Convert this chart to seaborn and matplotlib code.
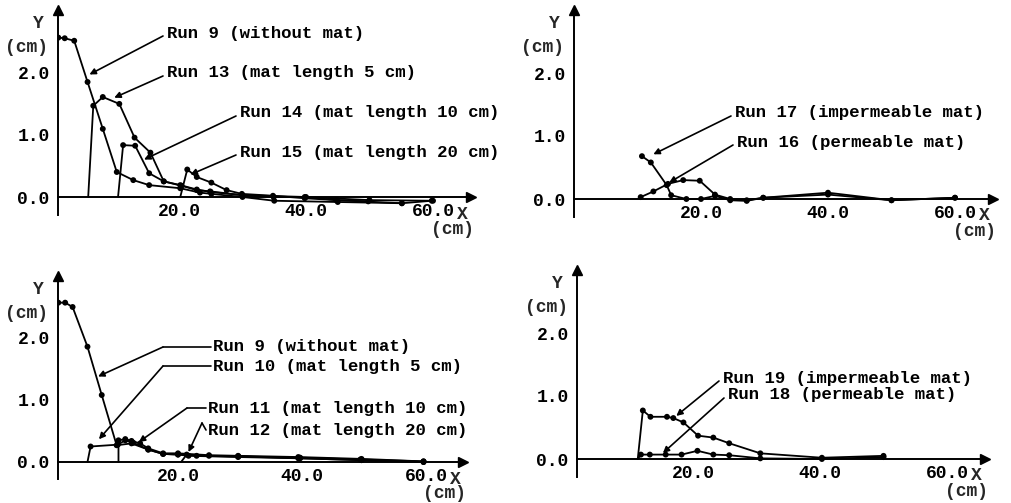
import matplotlib
matplotlib.use("Agg")
import matplotlib.pyplot as plt
import seaborn as sns
import pandas as pd
from matplotlib.lines import Line2D

# ---------------- data ----------------
# Top-left panel
tl_run9_x = [1.0, 2.0, 3.5, 5.6, 8.0, 10.2, 12.8, 15.3, 20.2, 23.3, 25.1, 30.0, 35.0, 45.0, 55.1]
tl_run9_y = [2.55, 2.54, 2.50, 1.84, 1.09, 0.40, 0.27, 0.19, 0.14, 0.07, 0.05, 0.00, -0.06, -0.08, -0.10]
tl_run13_x = [5.7, 6.5, 8.0, 10.6, 13.0, 15.5, 17.6, 20.4, 22.8, 24.9, 29.9, 34.9, 39.8, 44.8, 49.8]
tl_run13_y = [0.00, 1.46, 1.60, 1.49, 0.95, 0.71, 0.25, 0.18, 0.11, 0.09, 0.03, 0.00, 0.00, -0.05, -0.07]
tl_run14_x = [10.4, 11.2, 13.1, 15.3, 17.6, 20.2, 22.8, 25.0, 30.0, 40.0, 50.0, 60.0]
tl_run14_y = [0.00, 0.83, 0.82, 0.38, 0.25, 0.19, 0.12, 0.08, 0.03, 0.00, -0.05, -0.06]
tl_run15_x = [20.2, 21.3, 22.8, 25.1, 27.5, 29.9, 34.8, 39.8, 44.8, 55.1, 59.8]
tl_run15_y = [0.00, 0.44, 0.32, 0.23, 0.11, 0.05, 0.02, -0.02, -0.05, -0.10, -0.06]

# Top-right panel
tr_run16_x = [10.5, 12.5, 14.8, 17.2, 19.8, 22.2, 24.6, 27.2, 29.8, 40.0, 50.0, 60.0]
tr_run16_y = [0.03, 0.12, 0.24, 0.30, 0.29, 0.07, 0.00, -0.02, 0.02, 0.07, -0.02, 0.02]
tr_run17_x = [10.7, 12.1, 14.6, 15.3, 17.7, 20.0, 22.2, 24.6, 27.2, 29.8, 40.0, 50.0, 60.0]
tr_run17_y = [0.68, 0.58, 0.22, 0.06, 0.00, 0.00, 0.05, -0.02, -0.03, 0.02, 0.10, -0.02, 0.02]

# Bottom-left panel
bl_run9_x = [0.7, 1.8, 3.0, 5.4, 7.7, 10.1, 12.5, 15.2, 17.6, 20.0, 25.0, 29.7, 39.7, 49.6, 59.6]
bl_run9_y = [2.57, 2.57, 2.50, 1.86, 1.08, 0.27, 0.30, 0.20, 0.13, 0.12, 0.10, 0.09, 0.06, 0.03, 0.00]
bl_run10_x = [5.4, 5.9, 10.3, 11.5, 12.8, 15.2, 17.6, 20.0, 21.7, 29.7, 39.4, 49.6, 59.6]
bl_run10_y = [0.00, 0.25, 0.28, 0.35, 0.31, 0.20, 0.13, 0.12, 0.10, 0.08, 0.06, 0.03, 0.00]
bl_run11_x = [10.4, 10.4, 11.5, 12.5, 13.9, 15.2, 17.6, 20.0, 25.0, 29.7, 39.4, 49.6, 59.6]
bl_run11_y = [0.00, 0.35, 0.37, 0.34, 0.30, 0.22, 0.14, 0.14, 0.11, 0.10, 0.08, 0.05, 0.01]
bl_run12_x = [20.5, 21.4, 23.0, 29.7, 39.7, 49.4, 59.6]
bl_run12_y = [0.00, 0.12, 0.10, 0.09, 0.07, 0.04, 0.01]

# Bottom-right panel
br_run18_x = [11.3, 11.8, 13.2, 15.7, 18.2, 20.7, 23.2, 25.7, 30.6, 40.3, 50.0]
br_run18_y = [0.00, 0.07, 0.07, 0.07, 0.07, 0.13, 0.07, 0.06, 0.01, 0.00, 0.03]
br_run19_x = [11.3, 12.1, 13.3, 15.9, 16.9, 18.5, 20.8, 23.2, 25.7, 30.6, 40.3, 50.0]
br_run19_y = [0.00, 0.77, 0.67, 0.67, 0.65, 0.58, 0.37, 0.34, 0.25, 0.09, 0.02, 0.05]

x_ticks = [20, 40, 60]
x_ticklabels = ["20.0", "40.0", "60.0"]
y_ticks = [0, 1, 2]
y_ticklabels = ["0.0", "1.0", "2.0"]

label_run9 = "Run 9 (without mat)"
tl_labels = [label_run9, "Run 13 (mat length 5 cm)", "Run 14 (mat length 10 cm)", "Run 15 (mat length 20 cm)"]
tr_labels = ["Run 17 (impermeable mat)", "Run 16 (permeable mat)"]
bl_labels = [label_run9, "Run 10 (mat length 5 cm)", "Run 11 (mat length 10 cm)", "Run 12 (mat length 20 cm)"]
br_labels = ["Run 19 (impermeable mat)", "Run 18 (permeable mat)"]

# ---------------- styling / layout ----------------
sns.set_theme(style="white")
FONT = ["Liberation Mono", "DejaVu Sans Mono"]
plt.rcParams["font.family"] = FONT
W, H = 1011, 503
XMAX, YMIN, YMAX = 66.0, -0.28, 3.0

fig = plt.figure(figsize=(W / 100, H / 100), dpi=100)
fig.patch.set_facecolor("white")

panel_geom = {
    "TL": dict(x0=52, sx=6.35, ax_px=58, y0=197, sy=62.5),
    "TR": dict(x0=574, sx=6.35, ax_px=574, y0=199, sy=63.0),
    "BL": dict(x0=54, sx=6.2, ax_px=58, y0=462, sy=62.0),
    "BR": dict(x0=566, sx=6.35, ax_px=577, y0=459, sy=63.0),
}

TICK_FS = 13
TXT_FS = 12.5
WEIGHT = "bold"


def make_axes(g):
    xl = (g["ax_px"] - g["x0"]) / g["sx"]
    right = g["x0"] + XMAX * g["sx"]
    top = g["y0"] - YMAX * g["sy"]
    bottom = g["y0"] - YMIN * g["sy"]
    ax = fig.add_axes([g["ax_px"] / W, 1 - bottom / H, (right - g["ax_px"]) / W, (bottom - top) / H])
    ax.set_facecolor("none")
    ax.set_xlim(xl, XMAX)
    ax.set_ylim(YMIN, YMAX)
    for s in ["top", "right"]:
        ax.spines[s].set_visible(False)
    ax.spines["bottom"].set_position(("data", 0))
    for s in ["left", "bottom"]:
        ax.spines[s].set_color("black")
        ax.spines[s].set_linewidth(1.4)
    ax.set_xticks(x_ticks)
    ax.set_xticklabels(x_ticklabels)
    ax.set_xticks([10, 30, 50], minor=True)
    ax.set_yticks(y_ticks)
    ax.set_yticklabels(y_ticklabels)
    ax.set_yticks([0.5, 1.5, 2.5], minor=True)
    ax.tick_params(axis="x", which="both", direction="in", length=5, width=1.2, color="black",
                   labelsize=TICK_FS, pad=4)
    ax.tick_params(axis="y", which="both", direction="in", length=4, width=1.2, color="black",
                   labelsize=TICK_FS, pad=6)
    for lab in ax.get_xticklabels() + ax.get_yticklabels():
        lab.set_fontweight(WEIGHT)
        lab.set_color("black")
    # arrow heads
    ax.plot(1, 0, marker=">", ms=7, color="black", transform=ax.get_yaxis_transform(), clip_on=False)
    ax.plot(xl, 1, marker="^", ms=7, color="black", transform=ax.get_xaxis_transform(), clip_on=False)
    # axis titles
    ax.annotate("Y", xy=(0, 2.78), xycoords=("axes fraction", "data"), xytext=(-20, 0),
                textcoords="offset pixels", ha="center", va="center", fontsize=TICK_FS, fontweight=WEIGHT)
    ax.annotate("(cm)", xy=(0, 2.40), xycoords=("axes fraction", "data"), xytext=(-31, 0),
                textcoords="offset pixels", ha="center", va="center", fontsize=TICK_FS, fontweight=WEIGHT)
    ax.annotate("X", xy=(64.7, 0), xycoords="data", xytext=(0, -17),
                textcoords="offset pixels", ha="center", va="center", fontsize=TICK_FS, fontweight=WEIGHT,
                annotation_clip=False)
    ax.annotate("(cm)", xy=(63.0, 0), xycoords="data", xytext=(0, -32),
                textcoords="offset pixels", ha="center", va="center", fontsize=TICK_FS, fontweight=WEIGHT,
                annotation_clip=False)
    return ax


def draw_series(ax, series):
    frames = []
    for name, xs, ys in series:
        d = pd.DataFrame({"x": xs, "y": ys, "run": name})
        # a run that starts on the bed (mat end) has no measured dot at that base point
        d["dot"] = True
        if ys[0] == 0.0:
            d.loc[0, "dot"] = False
        frames.append(d)
    df = pd.concat(frames, ignore_index=True)
    names = [s[0] for s in series]
    pal = ["black"] * len(names)
    sns.lineplot(data=df, x="x", y="y", hue="run", hue_order=names, palette=pal,
                 units="run", estimator=None, sort=False, linewidth=1.3, ax=ax, legend=False)
    sns.scatterplot(data=df[df["dot"]], x="x", y="y", hue="run", hue_order=names, palette=pal,
                    s=18, linewidth=0, ax=ax, legend=False, zorder=3)
    ax.set_xlabel("")
    ax.set_ylabel("")


def label(ax, text, tx, ty, target, knee=None):
    fig.text(tx / W, 1 - ty / H, text, ha="left", va="center", fontsize=TXT_FS,
             fontweight=WEIGHT, color="black")
    if knee is None:
        kx, ky = tx - 4, ty + 3
    else:
        kx, ky = knee
        fig.add_artist(Line2D([kx / W, (tx - 2) / W], [1 - ky / H, 1 - ty / H],
                              transform=fig.transFigure, color="black", lw=1.2))
    ax.annotate("", xy=target, xycoords="data", xytext=(kx, H - ky), textcoords="figure pixels",
                arrowprops=dict(arrowstyle="-|>", color="black", lw=1.2, shrinkA=0, shrinkB=1,
                                mutation_scale=9), annotation_clip=False)


# ---------------- panels ----------------
ax_tl = make_axes(panel_geom["TL"])
draw_series(ax_tl, [("Run 9", tl_run9_x, tl_run9_y), ("Run 13", tl_run13_x, tl_run13_y),
                    ("Run 14", tl_run14_x, tl_run14_y), ("Run 15", tl_run15_x, tl_run15_y)])
label(ax_tl, tl_labels[0], 167, 33, (5.7, 1.95))
label(ax_tl, tl_labels[1], 167, 73, (9.6, 1.58))
label(ax_tl, tl_labels[2], 240, 113, (14.3, 0.59))
label(ax_tl, tl_labels[3], 240, 152, (21.6, 0.35))

ax_tr = make_axes(panel_geom["TR"])
draw_series(ax_tr, [("Run 16", tr_run16_x, tr_run16_y), ("Run 17", tr_run17_x, tr_run17_y)])
label(ax_tr, tr_labels[0], 735, 113, (12.3, 0.70))
label(ax_tr, tr_labels[1], 737, 142, (14.8, 0.25))

ax_bl = make_axes(panel_geom["BL"])
draw_series(ax_bl, [("Run 9", bl_run9_x, bl_run9_y), ("Run 10", bl_run10_x, bl_run10_y),
                    ("Run 11", bl_run11_x, bl_run11_y), ("Run 12", bl_run12_x, bl_run12_y)])
label(ax_bl, bl_labels[0], 213, 347, (6.9, 1.37), knee=(163, 347))
label(ax_bl, bl_labels[1], 213, 366, (7.1, 0.35), knee=(163, 366))
label(ax_bl, bl_labels[2], 208, 408, (13.5, 0.31), knee=(187, 408))
label(ax_bl, bl_labels[3], 208, 430, (21.6, 0.14), knee=(202, 423))

ax_br = make_axes(panel_geom["BR"])
draw_series(ax_br, [("Run 18", br_run18_x, br_run18_y), ("Run 19", br_run19_x, br_run19_y)])
label(ax_br, br_labels[0], 723, 378, (17.2, 0.67))
label(ax_br, br_labels[1], 728, 395, (15.1, 0.08))

fig.savefig("out.png", dpi=100, facecolor="white")
